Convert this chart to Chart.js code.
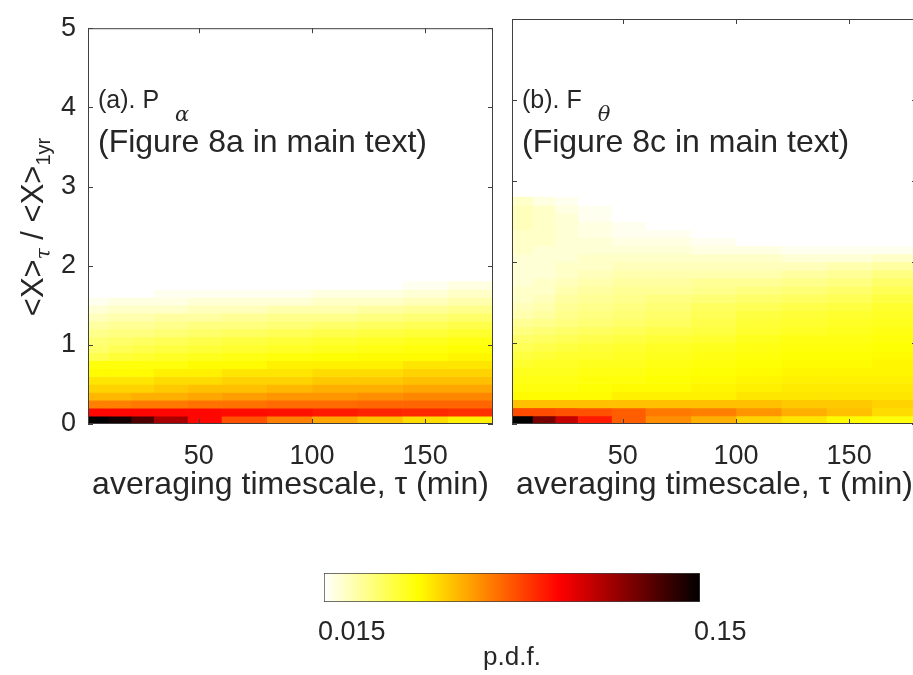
<!DOCTYPE html>
<html>
<head>
<meta charset="utf-8">
<script src="https://cdn.jsdelivr.net/npm/chart.js@4.4.1/dist/chart.umd.min.js"></script>
<style>
    html, body { margin: 0; padding: 0; background: #fff; overflow: hidden; width: 913px; height: 675px; }
    canvas { position: absolute; }
</style>
</head>
<body>
<canvas id="panelA" width="500" height="520" style="left:0px;top:0px"></canvas>
<canvas id="panelB" width="420" height="520" style="left:500px;top:0px"></canvas>
<canvas id="colorbar" width="500" height="115" style="left:300px;top:560px"></canvas>
<script>
// colonnes de tau (min) et hauteur d'une ligne de <X>tau/<X>1yr
const tauEdges = [1, 10, 20, 30, 45, 60, 80, 100, 120, 140, 160, 180];
const rowStep = 0.1;
const xTicks = [50, 100, 150];
const yTicks = [0, 1, 2, 3, 4, 5];
const pdfRange = [0.015, 0.15];

// p.d.f. x 1000 : une ligne par tranche de 0.1 (depuis 0), une valeur par colonne de tau
const pdfA = [
    [160, 140, 115, 85, 62, 48, 41, 36, 33, 30, 28],
    [62, 62, 62, 62, 62, 61, 60, 58, 56, 55, 54],
    [41, 41, 42, 42, 43, 43, 44, 44, 45, 45, 45],
    [34, 34, 35, 35, 36, 37, 38, 38, 39, 40, 40],
    [31, 31, 31, 32, 33, 33, 34, 35, 35, 36, 36],
    [29, 29, 29, 30, 30, 31, 31, 32, 32, 33, 33],
    [27, 27, 27, 28, 28, 29, 29, 30, 30, 31, 31],
    [26, 26, 26, 26, 27, 27, 28, 28, 28, 29, 29],
    [22.5, 23.5, 24, 24.5, 25, 25.5, 26, 26.5, 27, 27, 27.5],
    [21, 22, 22.5, 23, 23.5, 24, 24.5, 25, 25.5, 26, 26.5],
    [20.5, 21, 21.5, 22, 22.5, 23, 23.5, 24, 24.5, 25, 25.5],
    [19.5, 20, 20, 20.5, 21, 21.5, 22, 22.5, 23, 23.5, 24],
    [18.5, 19, 19, 19.5, 20, 20, 20.5, 21, 21.5, 22, 22.5],
    [17.5, 18, 18, 18.5, 18.5, 19, 19.5, 19.5, 20, 20.5, 21],
    [16.5, 17, 17, 17, 17.5, 17.5, 18, 18, 18.5, 19, 19.5],
    [15.5, 16, 16, 16, 16.5, 16.5, 16.5, 17, 17, 17.5, 18],
    [15, 15, 15, 15.5, 15.5, 15.5, 15.5, 16, 16, 16.5, 17],
    [14, 14, 14.5, 14.5, 14.5, 14.5, 14.5, 15, 15, 15.5, 16],
];

const pdfB = [
    [155, 100, 77, 58, 46, 39, 35, 31, 29, 27, 26],
    [49, 49, 48, 48, 46, 42, 41, 38, 35, 33, 30],
    [33, 33, 33, 33, 33, 33, 33, 33, 32, 32, 31],
    [27, 27, 27, 27, 28, 28, 28, 29, 29, 29, 29],
    [26, 26, 26, 26.5, 27, 27, 27.5, 28, 28.5, 28.5, 28.5],
    [25.5, 25.5, 25.5, 26, 26, 26.5, 27, 27.5, 28, 28, 28],
    [25, 25, 25, 25.5, 25.5, 26, 26.5, 27, 27.5, 27.5, 27.5],
    [24, 24.5, 24.5, 25, 25, 25.5, 26, 26.5, 27, 27, 27.5],
    [23, 23.5, 24, 24, 24.5, 25, 25.5, 26, 26.5, 26.5, 27],
    [22, 22.5, 23, 23.5, 24, 24.5, 25, 25.5, 26, 26, 26.5],
    [21, 21.5, 22, 22.5, 23, 23.5, 24, 25, 25.5, 25.5, 26],
    [20, 20.5, 21, 21.5, 22, 22.5, 23, 24, 24.5, 25, 25.5],
    [19, 19.5, 20, 20.5, 21, 21.5, 22.5, 23.5, 24, 24.5, 25],
    [18, 18.5, 19.5, 20, 20.5, 21, 22, 23, 23.5, 24, 24.5],
    [17.5, 18, 19, 19.5, 20, 20.5, 21.5, 22, 22.5, 23, 24],
    [17, 17.5, 18.5, 19, 19.5, 20, 20.5, 21, 21.5, 22, 23],
    [17, 17, 18, 18.5, 19, 19, 19.5, 20, 20.5, 21, 22],
    [16.5, 17, 17.5, 18, 18.5, 18.5, 19, 19, 19.5, 20, 21],
    [16.5, 16.5, 17, 17.5, 18, 18, 18, 18, 18.5, 19, 20],
    [16.5, 16.5, 17, 17, 17.5, 17.5, 17.5, 17.5, 17.5, 18, 18.5],
    [16.5, 16.5, 16.5, 17, 17, 17, 17, 17, 16.5, 16.5, 17],
    [17, 16.5, 16.5, 16.5, 16.5, 16.5, 16, 16, 15.5, 15.5, 15.5],
    [17, 17, 16.5, 16.5, 16, 16, 15.5, 15, 14.5, 14, 14],
    [17, 17, 16.5, 16, 15.5, 15.5, 15, 14.5, 14, 13, 13],
    [17.5, 17, 16.5, 16, 15.5, 15, 14.5, 14, 13, 13, 13],
    [17.5, 17, 16.5, 15.5, 15, 14.5, 14, 13, 13, 13, 13],
    [17.5, 17, 16, 15.5, 14.5, 14, 13, 13, 13, 13, 13],
    [17, 16, 15.5, 15, 14, 13, 13, 13, 13, 13, 13],
];

const FONT = "'Liberation Sans', Arial, Helvetica, sans-serif";
const INK = "#262626";
Chart.defaults.font.family = FONT;
Chart.defaults.color = INK;

// palette "hot" inversée : blanc -> jaune -> rouge -> noir
function hotColor(t) {
    t = Math.max(0, Math.min(1, t));
    const s = 1 - t;
    const c = v => Math.round(255 * Math.max(0, Math.min(1, v)));
    return "rgb(" + c(s / 0.375) + "," + c((s - 0.375) / 0.375) + "," + c((s - 0.75) / 0.25) + ")";
}

function pdfColor(v) {
    return hotColor(Math.log(v / pdfRange[0]) / Math.log(pdfRange[1] / pdfRange[0]));
}

// une série par colonne de tau, une barre flottante par tranche
function heatDatasets(rows) {
    return tauEdges.slice(0, -1).map((t0, c) => ({
        data: rows.map((row, i) => ({ y: (i + 0.5) * rowStep, x: [t0, tauEdges[c + 1]], v: row[c] / 1000 })),
        backgroundColor: ctx => (ctx.raw ? pdfColor(ctx.raw.v) : "#fff"),
        borderWidth: 0,
        barPercentage: 1,
        categoryPercentage: 1,
        grouped: false,
    }));
}

// cadre et graduations intérieures façon MATLAB
const frame = {
    id: "frame",
    afterDatasetsDraw(chart) {
        const { ctx, chartArea: a, scales: { x, y } } = chart;
        ctx.save();
        ctx.strokeStyle = "#404040";
        ctx.lineWidth = 1;
        ctx.beginPath();
        x.ticks.forEach(t => {
            const p = Math.round(x.getPixelForValue(t.value)) + 0.5;
            ctx.moveTo(p, a.bottom); ctx.lineTo(p, a.bottom - 5);
            ctx.moveTo(p, a.top); ctx.lineTo(p, a.top + 5);
        });
        y.ticks.forEach(t => {
            const p = Math.round(y.getPixelForValue(t.value)) + 0.5;
            ctx.moveTo(a.left, p); ctx.lineTo(a.left + 5, p);
            ctx.moveTo(a.right, p); ctx.lineTo(a.right - 5, p);
        });
        ctx.stroke();
        ctx.strokeRect(a.left + 0.5, a.top + 0.5, a.right - a.left - 1, a.bottom - a.top - 1);
        ctx.restore();
    },
};

// étiquette du panneau : "(a). P" + indice grec + ligne de renvoi
const panelLabel = {
    id: "panelLabel",
    afterDraw(chart, args, opts) {
        const { ctx, chartArea: a } = chart;
        const x0 = a.left + 10;
        ctx.save();
        ctx.fillStyle = INK;
        ctx.textBaseline = "alphabetic";
        ctx.font = "25px " + FONT;
        ctx.fillText(opts.name, x0, 108);
        const w = ctx.measureText(opts.name).width;
        ctx.font = "italic 21px 'DejaVu Serif', serif";
        ctx.fillText(opts.sub, x0 + w + 16, 121);
        ctx.font = "32px " + FONT;
        ctx.fillText(opts.note, x0, 152);
        ctx.restore();
    },
};

// titre vertical <X>_tau / <X>_1yr avec indices
const yTitle = {
    id: "yTitle",
    afterDraw(chart) {
        const ctx = chart.ctx;
        const parts = [
            { t: "<X>", f: "31px " + FONT, dy: 0 },
            { t: "\u03c4", f: "italic 20px 'DejaVu Serif', serif", dy: 7 },
            { t: " / <X>", f: "31px " + FONT, dy: 0 },
            { t: "1yr", f: "20px " + FONT, dy: 7 },
        ];
        ctx.save();
        ctx.fillStyle = INK;
        ctx.translate(43, 227);
        ctx.rotate(-Math.PI / 2);
        let total = 0;
        parts.forEach(p => { ctx.font = p.f; p.w = ctx.measureText(p.t).width; total += p.w; });
        let x = -total / 2;
        parts.forEach(p => { ctx.font = p.f; ctx.fillText(p.t, x, p.dy); x += p.w; });
        ctx.restore();
    },
};

function heatChart(id, rows, label, withYLabels) {
    const plugins = withYLabels ? [frame, panelLabel, yTitle] : [frame, panelLabel];
    return new Chart(document.getElementById(id), {
        type: "bar",
        data: { datasets: heatDatasets(rows) },
        plugins: plugins,
        options: {
            indexAxis: "y",
            responsive: false,
            animation: false,
            events: [],
            layout: { padding: { top: 19, right: withYLabels ? 7 : 3, left: 0, bottom: 0 } },
            plugins: {
                legend: { display: false },
                tooltip: { enabled: false },
                panelLabel: label,
            },
            scales: {
                x: {
                    type: "linear",
                    min: tauEdges[0],
                    max: tauEdges[tauEdges.length - 1],
                    grid: { display: false, drawTicks: false },
                    border: { display: false },
                    afterBuildTicks: s => { s.ticks = xTicks.map(v => ({ value: v })); },
                    afterFit: s => { s.height = 96; },
                    ticks: { padding: 16, font: { size: 27 }, maxRotation: 0 },
                    title: {
                        display: true,
                        text: "averaging timescale, \u03c4 (min)",
                        font: { size: 32 },
                        padding: { top: 0, bottom: 16 },
                    },
                },
                y: {
                    type: "linear",
                    min: 0,
                    max: 5,
                    offset: false,
                    grid: { display: false, drawTicks: false, offset: false },
                    border: { display: false },
                    afterBuildTicks: s => { s.ticks = yTicks.map(v => ({ value: v })); },
                    afterFit: s => { s.width = withYLabels ? 88 : 12; },
                    ticks: { display: withYLabels, padding: 12, font: { size: 27 } },
                },
            },
        },
    });
}

heatChart("panelA", pdfA, { name: "(a). P", sub: "\u03b1", note: "(Figure 8a in main text)" }, true);
heatChart("panelB", pdfB, { name: "(b). F", sub: "\u03b8", note: "(Figure 8c in main text)" }, false);

// barre de couleur (échelle log de 0.015 à 0.15)
new Chart(document.getElementById("colorbar"), {
    type: "bar",
    data: {
        labels: ["p.d.f."],
        datasets: [{
            data: [pdfRange],
            backgroundColor: ctx => {
                const a = ctx.chart.chartArea;
                if (!a) return "#fff";
                const g = ctx.chart.ctx.createLinearGradient(a.left, 0, a.right, 0);
                for (let i = 0; i <= 40; i++) g.addColorStop(i / 40, hotColor(i / 40));
                return g;
            },
            borderColor: "#404040",
            borderWidth: 1,
            borderSkipped: false,
            barPercentage: 1,
            categoryPercentage: 1,
        }],
    },
    options: {
        indexAxis: "y",
        responsive: false,
        animation: false,
        events: [],
        layout: { padding: { top: 13, left: 24, right: 100, bottom: 0 } },
        plugins: { legend: { display: false }, tooltip: { enabled: false } },
        scales: {
            y: { display: false },
            x: {
                type: "logarithmic",
                min: pdfRange[0],
                max: pdfRange[1],
                grid: { display: false, drawTicks: false },
                border: { display: false },
                afterBuildTicks: s => { s.ticks = pdfRange.map(v => ({ value: v })); },
                afterFit: s => { s.height = 73; },
                ticks: { align: "start", labelOffset: -6, padding: 14, font: { size: 27 }, callback: v => String(v) },
                title: { display: true, text: "p.d.f.", font: { size: 26 }, padding: { top: 0, bottom: 2 } },
            },
        },
    },
});
</script>
</body>
</html>
